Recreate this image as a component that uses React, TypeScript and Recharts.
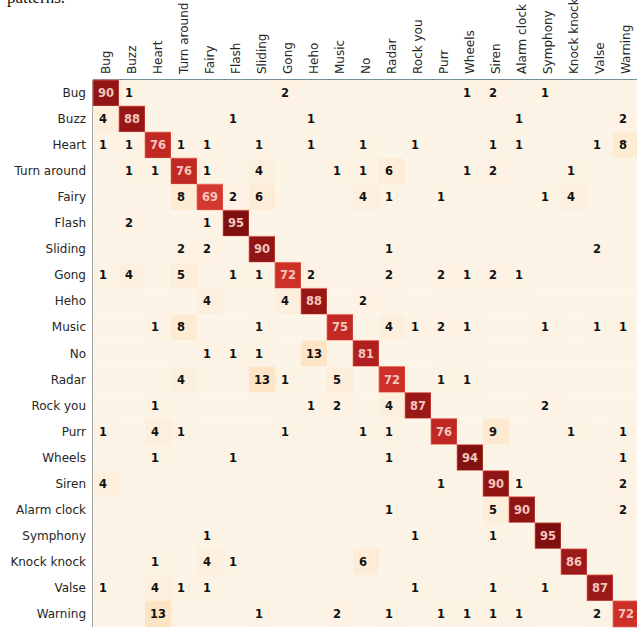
import { ScatterChart, Scatter, XAxis, YAxis } from "recharts";

const categories = [
  "Bug", "Buzz", "Heart", "Turn around", "Fairy", "Flash", "Sliding", "Gong",
  "Heho", "Music", "No", "Radar", "Rock you", "Purr", "Wheels", "Siren",
  "Alarm clock", "Symphony", "Knock knock", "Valse", "Warning",
];

// rows = actual gesture, columns = predicted gesture (percent)
const counts: number[][] = [
  [90, 1, 0, 0, 0, 0, 0, 2, 0, 0, 0, 0, 0, 0, 1, 2, 0, 1, 0, 0, 0],
  [4, 88, 0, 0, 0, 1, 0, 0, 1, 0, 0, 0, 0, 0, 0, 0, 1, 0, 0, 0, 2],
  [1, 1, 76, 1, 1, 0, 1, 0, 1, 0, 1, 0, 1, 0, 0, 1, 1, 0, 0, 1, 8],
  [0, 1, 1, 76, 1, 0, 4, 0, 0, 1, 1, 6, 0, 0, 1, 2, 0, 0, 1, 0, 0],
  [0, 0, 0, 8, 69, 2, 6, 0, 0, 0, 4, 1, 0, 1, 0, 0, 0, 1, 4, 0, 0],
  [0, 2, 0, 0, 1, 95, 0, 0, 0, 0, 0, 0, 0, 0, 0, 0, 0, 0, 0, 0, 0],
  [0, 0, 0, 2, 2, 0, 90, 0, 0, 0, 0, 1, 0, 0, 0, 0, 0, 0, 0, 2, 0],
  [1, 4, 0, 5, 0, 1, 1, 72, 2, 0, 0, 2, 0, 2, 1, 2, 1, 0, 0, 0, 0],
  [0, 0, 0, 0, 4, 0, 0, 4, 88, 0, 2, 0, 0, 0, 0, 0, 0, 0, 0, 0, 0],
  [0, 0, 1, 8, 0, 0, 1, 0, 0, 75, 0, 4, 1, 2, 1, 0, 0, 1, 0, 1, 1],
  [0, 0, 0, 0, 1, 1, 1, 0, 13, 0, 81, 0, 0, 0, 0, 0, 0, 0, 0, 0, 0],
  [0, 0, 0, 4, 0, 0, 13, 1, 0, 5, 0, 72, 0, 1, 1, 0, 0, 0, 0, 0, 0],
  [0, 0, 1, 0, 0, 0, 0, 0, 1, 2, 0, 4, 87, 0, 0, 0, 0, 2, 0, 0, 0],
  [1, 0, 4, 1, 0, 0, 0, 1, 0, 0, 1, 1, 0, 76, 0, 9, 0, 0, 1, 0, 1],
  [0, 0, 1, 0, 0, 1, 0, 0, 0, 0, 0, 1, 0, 0, 94, 0, 0, 0, 0, 0, 1],
  [4, 0, 0, 0, 0, 0, 0, 0, 0, 0, 0, 0, 0, 1, 0, 90, 1, 0, 0, 0, 2],
  [0, 0, 0, 0, 0, 0, 0, 0, 0, 0, 0, 1, 0, 0, 0, 5, 90, 0, 0, 0, 2],
  [0, 0, 0, 0, 1, 0, 0, 0, 0, 0, 0, 0, 1, 0, 0, 1, 0, 95, 0, 0, 0],
  [0, 0, 1, 0, 4, 1, 0, 0, 0, 0, 6, 0, 0, 0, 0, 0, 0, 0, 86, 0, 0],
  [1, 0, 4, 1, 1, 0, 0, 0, 0, 0, 0, 0, 1, 0, 0, 1, 0, 1, 0, 87, 0],
  [0, 0, 13, 0, 0, 0, 1, 0, 0, 2, 0, 1, 0, 1, 1, 1, 1, 0, 0, 2, 72],
];

const tickIndex = categories.map((_, i) => i);

const CHART_W = 660;
const CHART_H = 629;
const MARGIN = { top: 0, right: 21, bottom: 2, left: 0 };
const Y_AXIS_W = 93;
const X_AXIS_H = 80;
const N = categories.length;
const CELL_W = (CHART_W - MARGIN.left - MARGIN.right - Y_AXIS_W) / N;
const CELL_H = (CHART_H - MARGIN.top - MARGIN.bottom - X_AXIS_H) / N;
const FONT = "'DejaVu Sans', sans-serif";
const V_MAX = 95;

// OrRd, slightly muted at the dark end
const OR_RD = ["#fdf4e8", "#fde6c8", "#fcd3a0", "#f9b98a", "#f28d62", "#e6604a", "#d0302a", "#a81c1c", "#7e1010"];

function hexToRgb(h: string) {
  const n = parseInt(h.slice(1), 16);
  return [(n >> 16) & 255, (n >> 8) & 255, n & 255];
}

function cellColor(v: number) {
  const t = Math.min(v / V_MAX, 1) * (OR_RD.length - 1);
  const i = Math.min(Math.floor(t), OR_RD.length - 2);
  const f = t - i;
  const a = hexToRgb(OR_RD[i]);
  const b = hexToRgb(OR_RD[i + 1]);
  const c = a.map((x, k) => Math.round(x + (b[k] - x) * f));
  return `rgb(${c[0]},${c[1]},${c[2]})`;
}

const cells = counts.flatMap((row, r) => row.map((value, c) => ({ col: c, row: r, value })));

function HeatCell(props: any) {
  const { cx, cy, payload } = props;
  const v: number = payload.value;
  const label = String(v);
  const shift = label.length === 1 ? -3 : 0;
  const strong = v > 50;
  return (
    <g>
      <rect
        x={cx - CELL_W / 2}
        y={cy - CELL_H / 2}
        width={CELL_W}
        height={CELL_H}
        fill={cellColor(v)}
        stroke={strong ? "rgba(235,110,90,0.7)" : "none"}
        strokeWidth={1}
      />
      {v > 0 && (
        <text
          x={cx + shift}
          y={cy}
          textAnchor="middle"
          dominantBaseline="central"
          fontFamily={FONT}
          fontSize={11.5}
          fontWeight="bold"
          fill={strong ? "#f4c6bc" : "#111"}
        >
          {label}
        </text>
      )}
    </g>
  );
}

function ColumnTick(props: any) {
  const { x, y, payload } = props;
  const ty = y + 2;
  return (
    <text
      x={x}
      y={ty}
      transform={`rotate(-90, ${x}, ${ty})`}
      textAnchor="start"
      dominantBaseline="central"
      fontFamily={FONT}
      fontSize={12}
      fill="#262626"
    >
      {categories[payload.value]}
    </text>
  );
}

function RowTick(props: any) {
  const { y, payload } = props;
  return (
    <text x={86} y={y} textAnchor="end" dominantBaseline="central" fontFamily={FONT} fontSize={12} fill="#262626">
      {categories[payload.value]}
    </text>
  );
}

export default function App() {
  return (
    <div style={{ position: "absolute", left: 0, top: 0, width: 637, height: 629, overflow: "hidden", background: "#fff" }}>
      <div
        style={{
          position: "absolute",
          left: 7,
          top: -12,
          fontFamily: "'Liberation Serif', serif",
          fontSize: 17,
          color: "#111",
          whiteSpace: "nowrap",
        }}
      >
        patterns.
      </div>
      <ScatterChart width={CHART_W} height={CHART_H} margin={MARGIN}>
        <XAxis
          xAxisId="top"
          type="number"
          dataKey="col"
          orientation="top"
          domain={[-0.5, N - 0.5]}
          ticks={tickIndex}
          interval={0}
          height={X_AXIS_H}
          tickLine={false}
          axisLine={{ stroke: "#4d6b7a", strokeWidth: 1.5 }}
          tick={<ColumnTick />}
        />
        <XAxis
          xAxisId="bottom"
          type="number"
          dataKey="col"
          orientation="bottom"
          domain={[-0.5, N - 0.5]}
          height={0}
          tick={false}
          tickLine={false}
          axisLine={{ stroke: "#f1c3a6" }}
        />
        <YAxis
          type="number"
          dataKey="row"
          reversed
          domain={[-0.5, N - 0.5]}
          ticks={tickIndex}
          interval={0}
          width={Y_AXIS_W}
          tickLine={false}
          axisLine={{ stroke: "#8a8a8a", strokeWidth: 1.5 }}
          tick={<RowTick />}
        />
        <Scatter xAxisId="top" data={cells} shape={<HeatCell />} isAnimationActive={false} />
      </ScatterChart>
    </div>
  );
}
